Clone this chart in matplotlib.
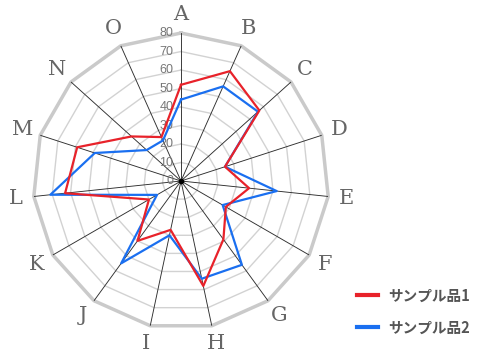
import numpy as np
import matplotlib
matplotlib.use('Agg')
import matplotlib.pyplot as plt

# Data
categories = ['A', 'B', 'C', 'D', 'E', 'F', 'G', 'H', 'I', 'J', 'K', 'L', 'M', 'N', 'O']
sample1 = [52, 65, 57, 25, 37, 28, 39, 58, 27, 40, 20, 63, 59, 36, 26]
sample2 = [44, 56, 56, 25, 52, 26, 56, 54, 30, 55, 15, 71, 49, 25, 24]
series_names = ['サンプル品1', 'サンプル品2']
ticks = [0, 10, 20, 30, 40, 50, 60, 70, 80]

plt.rcParams['font.family'] = ['Noto Sans CJK JP', 'DejaVu Sans']

fig = plt.figure(figsize=(5, 3.6), dpi=100)
ax = fig.add_axes([0.066, 0.0861, 0.592, 0.8222], projection='polar')
ax.set_theta_zero_location('N')
ax.set_theta_direction(-1)
ax.set_ylim(0, 80)
ax.grid(False)
ax.spines['polar'].set_visible(False)
ax.set_xticks([])
ax.set_yticks([])
ax.patch.set_visible(False)

n = len(categories)
angles = np.arange(n) * 2 * np.pi / n
closed = np.append(angles, angles[0])

# polygon grid
for t in ticks[1:]:
    if t == ticks[-1]:
        ax.plot(closed, [t] * (n + 1), color='#cacaca', lw=2.5, clip_on=False, zorder=1)
    else:
        ax.plot(closed, [t] * (n + 1), color='#d2d2d2', lw=1, zorder=1)

# spokes
for a in angles:
    ax.plot([a, a], [0, ticks[-1]], color='#2e2e2e', lw=0.65, zorder=2)
ax.plot([0], [0], 'o', color='black', ms=3, zorder=3)

# radial tick labels
for t in ticks:
    ax.annotate(str(t), xy=(0, t), xytext=(-5.5, 0), textcoords='offset points',
                ha='right', va='center', fontsize=9, color='#777777',
                family=['Liberation Sans', 'DejaVu Sans'], zorder=4)

# category labels
for a, c in zip(angles, categories):
    ax.text(a, 90, c, ha='center', va='center', fontsize=15, color='#666666',
            family=['DejaVu Serif'])

l1, = ax.plot(closed, sample1 + sample1[:1], color='#e8222a', lw=1.6, zorder=5)
l2, = ax.plot(closed, sample2 + sample2[:1], color='#1a6ff0', lw=1.6, zorder=4)

leg = fig.legend([l1, l2], series_names, loc='center left',
                 bbox_to_anchor=(0.714, 0.135), bbox_transform=fig.transFigure,
                 frameon=False, borderpad=0, borderaxespad=0,
                 handlelength=1.45, handletextpad=0.7, labelspacing=1.1,
                 prop={'size': 10.5, 'weight': 'bold'})
for h in leg.get_lines():
    h.set_linewidth(3)
for t in leg.get_texts():
    t.set_color('#555555')

fig.savefig('out.png', dpi=100)
